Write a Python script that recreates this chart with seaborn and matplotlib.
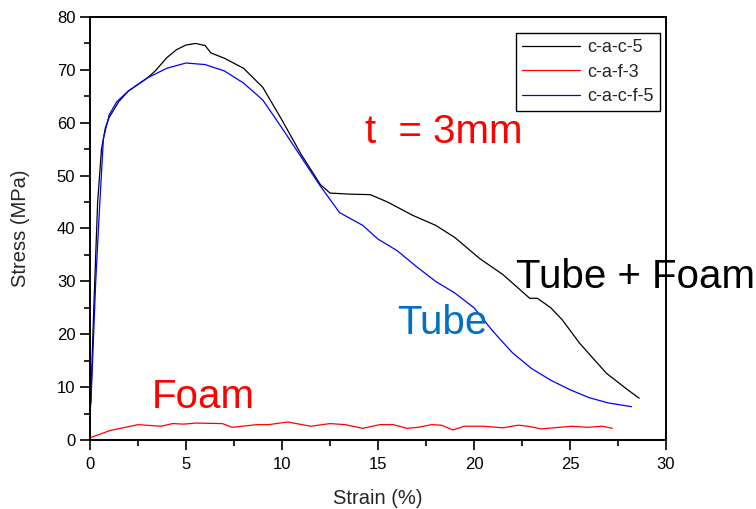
import matplotlib
matplotlib.use("Agg")
import matplotlib.pyplot as plt
from matplotlib.ticker import MultipleLocator
import seaborn as sns
import pandas as pd

# c-a-c-5 (Tube + Foam)
tf_x = [0, 0.2, 0.4, 0.6, 0.8, 1.0, 1.5, 2, 3, 3.4, 4, 4.5, 5, 5.5, 6, 6.3, 7, 8, 9, 10,
        11, 12, 12.5, 13.5, 14.6, 15.5, 16.8, 18, 19, 20.3, 21.5, 22.9, 23.3, 24, 24.6,
        25.5, 26.9, 28, 28.6]
tf_y = [3, 25, 45, 55, 59, 61, 64, 66, 68.5, 69.8, 72.3, 73.8, 74.7, 75, 74.6, 73.2, 72.2,
        70.3, 66.7, 60.5, 54, 48.3, 46.7, 46.5, 46.4, 45, 42.5, 40.6, 38.3, 34.3, 31.3,
        26.8, 26.8, 25, 22.7, 18.3, 12.6, 9.5, 7.9]

# c-a-f-3 (Foam)
foam_x = [0.06, 1.06, 2.5, 3.7, 4.3, 4.9, 5.5, 6.9, 7.4, 8.7, 9.3, 10.3, 11.5, 12.5, 13.3,
          14.2, 15.1, 15.8, 16.5, 17.1, 17.8, 18.3, 18.9, 19.5, 20.5, 21.5, 22.3, 22.8,
          23.5, 25.1, 25.9, 26.7, 27.2]
foam_y = [0.5, 1.8, 2.9, 2.6, 3.1, 3.0, 3.2, 3.1, 2.4, 2.9, 2.9, 3.4, 2.6, 3.1, 2.9, 2.2,
          2.9, 2.9, 2.2, 2.4, 2.9, 2.8, 1.9, 2.6, 2.6, 2.3, 2.8, 2.6, 2.1, 2.6, 2.4, 2.6, 2.2]

# c-a-c-f-5 (Tube)
tube_x = [0.05, 0.3, 0.5, 0.7, 1.0, 1.4, 2, 3, 4, 5, 6, 7, 8, 9, 10, 11, 12, 13, 13.5, 14.2,
          15, 16, 17, 18, 19, 20, 21, 22, 23, 24, 25, 26, 27, 28.2]
tube_y = [7, 30, 44, 57, 61.5, 64, 66, 68.5, 70.3, 71.3, 71, 69.8, 67.5, 64.3, 59, 53.5, 48,
          43, 42, 40.6, 38, 35.8, 32.8, 30, 27.8, 25, 20.5, 16.5, 13.5, 11.3, 9.5, 8, 7, 6.3]

series_names = ["c-a-c-5", "c-a-f-3", "c-a-c-f-5"]
series_colors = ["#000000", "#FF0000", "#0000FF"]

frames = []
for name, xs, ys in zip(series_names, [tf_x, foam_x, tube_x], [tf_y, foam_y, tube_y]):
    frames.append(pd.DataFrame({"strain": xs, "stress": ys, "series": name}))
df = pd.concat(frames, ignore_index=True)

sns.set_style("ticks")
plt.rcParams["font.family"] = ["Liberation Sans", "DejaVu Sans"]

fig = plt.figure(figsize=(7.56, 5.09), dpi=100)
ax = fig.add_axes([0.119, 0.1356, 0.762, 0.831])

sns.lineplot(data=df, x="strain", y="stress", hue="series", hue_order=series_names,
             palette=series_colors, sort=False, estimator=None, linewidth=0.9, ax=ax)

ax.set_xlim(0, 30)
ax.set_ylim(0, 80)
ax.xaxis.set_major_locator(MultipleLocator(5))
ax.xaxis.set_minor_locator(MultipleLocator(2.5))
ax.yaxis.set_major_locator(MultipleLocator(10))
ax.yaxis.set_minor_locator(MultipleLocator(5))
ax.tick_params(which="both", direction="out", bottom=True, left=True, width=1.2,
               colors="black", labelsize=12)
ax.tick_params(which="major", length=7.5, pad=3)
ax.tick_params(which="minor", length=4)
ax.tick_params(which="both", axis="x", pad=5)
ax.tick_params(which="both", top=False, right=False)
for s in ax.spines.values():
    s.set_visible(True)
    s.set_linewidth(1.4)
    s.set_color("black")

ax.set_xlabel("Strain (%)", fontsize=14.5, labelpad=12)
ax.set_ylabel("Stress (MPa)", fontsize=14.5, labelpad=19)

leg = ax.legend(loc="upper right", bbox_to_anchor=(0.9896, 0.962), borderaxespad=0,
                fontsize=13, frameon=True, fancybox=False, handlelength=3.2,
                labelspacing=0.4, handletextpad=0.4, borderpad=0.35)
leg.get_frame().set_edgecolor("black")
leg.get_frame().set_linewidth(1.0)
leg.get_frame().set_alpha(1)
leg.set_title(None)

ax.text(18.4, 58.3, "t  = 3mm", color="#FF0000", fontsize=29,
        ha="center", va="center")
ax.text(22.2, 30.8, "Tube + Foam", color="black", fontsize=29,
        ha="left", va="center", clip_on=False)
ax.text(16.0, 22.2, "Tube", color="#0070C0", fontsize=29,
        ha="left", va="center")
ax.text(3.2, 8.2, "Foam", color="#FF0000", fontsize=29,
        ha="left", va="center")

fig.savefig("out.png", dpi=100)
